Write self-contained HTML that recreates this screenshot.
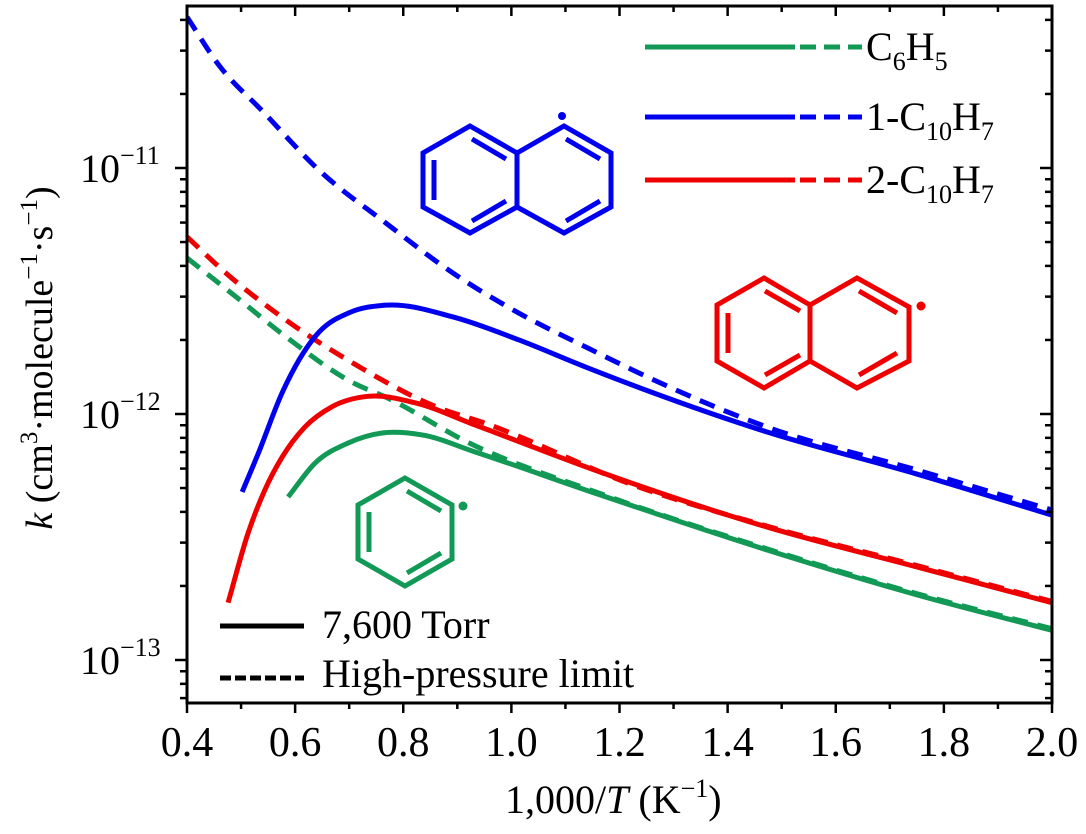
<!DOCTYPE html>
<html><head><meta charset="utf-8"><style>
body{margin:0;background:#fff}
svg{display:block;font-family:"Liberation Serif","Times New Roman",serif}
text{font-family:"Liberation Serif","Times New Roman",serif}
</style></head><body>
<svg id="c" width="1086" height="834" viewBox="0 0 1086 834" font-family="Liberation Serif, serif">
<g id="marks"></g>
<g id="axes"></g>
<g stroke="#0000ee" stroke-width="5" fill="none" stroke-linejoin="miter">
<path d="M470,126 L517,153 L517,207 L470,233 L423,207 L423,153 Z M517,153 L564,126 L611,153 L611,207 L564,233 L517,207"/>
<path d="M472,139 L506,159 M434,160 L434,200 M472,221 L506,201 M566,139 L600,159 M600,201 L566,221"/>
<circle cx="562" cy="116" r="4" fill="#0000ee" stroke="none"/>
</g>
<g stroke="#ee0000" stroke-width="5" fill="none">
<path d="M764,278 L810,305 L810,361 L764,388 L717,361 L717,305 Z M810,305 L857,278 L909,307 L909,361 L857,388 L810,361"/>
<path d="M765,291 L800,311 M728,313 L728,353 M765,375 L800,355 M859,291 L897,313 M897,353 L859,375"/>
<circle cx="921" cy="306" r="4.5" fill="#ee0000" stroke="none"/>
</g>
<g stroke="#119955" stroke-width="5" fill="none">
<path d="M405,478 L452,505 L452,559 L405,586 L358,559 L358,505 Z"/>
<path d="M407,491 L441,511 M369,512 L369,552 M407,573 L441,553"/>
<circle cx="463" cy="506" r="4.5" fill="#119955" stroke="none"/>
</g>
<g id="legend" font-size="40"></g>
</svg>
<script>
const ns="http://www.w3.org/2000/svg";
const xTicks=[0.4,0.6,0.8,1.0,1.2,1.4,1.6,1.8,2.0];
const xTickLabels=["0.4","0.6","0.8","1.0","1.2","1.4","1.6","1.8","2.0"];
const yDecades=[-13,-12,-11];
const seriesNames=["C6H5","1-C10H7","2-C10H7"];
const blueHplX=[0.4,0.46,0.54,0.644,0.768,0.892,1.014,1.138,1.262,1.473,1.75,2.0];
const blueHplK=[4.11e-11,2.6e-11,1.7e-11,9.8e-12,5.97e-12,3.74e-12,2.57e-12,1.87e-12,1.38e-12,8.85e-13,5.92e-13,4.07e-13];
const blueX=[0.502,0.532,0.576,0.644,0.7,0.768,0.892,1.014,1.138,1.262,1.473,1.75,2.0];
const blueK=[4.82e-13,6.93e-13,1.22e-12,2.15e-12,2.58e-12,2.77e-12,2.48e-12,2.0e-12,1.55e-12,1.22e-12,8.45e-13,5.7e-13,3.88e-13];
const redHplX=[0.4,0.472,0.583,0.707,0.861,0.953,1.23,1.473,1.75,2.0];
const redHplK=[5.25e-12,3.74e-12,2.41e-12,1.61e-12,1.07e-12,9.15e-13,5.1e-13,3.5e-13,2.42e-13,1.73e-13];
const redX=[0.476,0.513,0.544,0.576,0.618,0.668,0.735,0.822,0.933,1.164,1.473,1.75,2.0];
const redK=[1.71e-13,3.28e-13,4.91e-13,6.68e-13,8.85e-13,1.07e-12,1.18e-12,1.11e-12,9.02e-13,5.81e-13,3.47e-13,2.39e-13,1.71e-13];
const greenHplX=[0.4,0.491,0.583,0.707,0.768,0.922,1.164,1.473,1.75,2.0];
const greenHplK=[4.31e-12,2.99e-12,2.06e-12,1.34e-12,1.17e-12,7.62e-13,4.75e-13,2.83e-13,1.86e-13,1.34e-13];
const greenX=[0.587,0.637,0.698,0.761,0.835,0.933,1.164,1.473,1.75,2.0];
const greenK=[4.6e-13,6.32e-13,7.62e-13,8.37e-13,8.22e-13,7.01e-13,4.69e-13,2.8e-13,1.84e-13,1.32e-13];

const X0=187,X1=1052,Y0=6,Y1=703;
const xs=v=>X0+(v-0.4)/1.6*(X1-X0);
const ys=k=>168-(Math.log10(k)+11)*246;
function el(t,a,p){const e=document.createElementNS(ns,t);for(const k in a)e.setAttribute(k,a[k]);(p||document.getElementById('c')).appendChild(e);return e;}
function spline(px,py){const n=px.length,m=[];
for(let i=0;i<n;i++){if(i==0)m[i]=(py[1]-py[0])/(px[1]-px[0]);else if(i==n-1)m[i]=(py[i]-py[i-1])/(px[i]-px[i-1]);
else{const h0=px[i]-px[i-1],h1=px[i+1]-px[i],s0=(py[i]-py[i-1])/h0,s1=(py[i+1]-py[i])/h1;m[i]=(s0*h1+s1*h0)/(h0+h1);}}
let d=`M${px[0]},${py[0]}`;for(let i=0;i<n-1;i++){const h=px[i+1]-px[i];
d+=` C${px[i]+h/3},${py[i]+m[i]*h/3} ${px[i+1]-h/3},${py[i+1]-m[i+1]*h/3} ${px[i+1]},${py[i+1]}`;}return d;}
const marks=document.getElementById('marks');
function line(X,K,col,dash,name){const p=el('path',{d:spline(X.map(xs),K.map(ys)),fill:'none',stroke:col,'stroke-width':5,'stroke-dasharray':dash?'16,10':'none'},marks);

}
el('clipPath',{id:'cp'}).appendChild(el('rect',{x:X0,y:Y0,width:X1-X0,height:Y1-Y0}));
marks.setAttribute('clip-path','url(#cp)');
line(greenHplX,greenHplK,'#119955',true,'c6h5-high-pressure-line');
line(greenX,greenK,'#119955',false,'c6h5-7600torr-line');
line(redHplX,redHplK,'#ee0000',true,'2-c10h7-high-pressure-line');
line(redX,redK,'#ee0000',false,'2-c10h7-7600torr-line');
line(blueHplX,blueHplK,'#0000ee',true,'1-c10h7-high-pressure-line');
line(blueX,blueK,'#0000ee',false,'1-c10h7-7600torr-line');

const ax=document.getElementById('axes');
el('rect',{x:X0,y:Y0,width:X1-X0,height:Y1-Y0,fill:'none',stroke:'#000','stroke-width':3},ax);
for(let v=0.4;v<=2.001;v+=0.1){const x=xs(v),maj=Math.round(v*10)%2==0;
el('line',{x1:x,x2:x,y1:Y1,y2:Y1+(maj?10:6),stroke:'#000','stroke-width':2.5},ax);
el('line',{x1:x,x2:x,y1:Y0,y2:Y0+(maj?10:6),stroke:'#000','stroke-width':2.5},ax);}
xTicks.forEach((v,i)=>{const t=el('text',{x:xs(v),y:756,'font-size':42,'text-anchor':'middle'},ax);t.textContent=xTickLabels[i];

});
for(let d=-14;d<=-11;d++)for(let m=1;m<10;m++){const y=ys(m*Math.pow(10,d));if(y<Y0-0.5||y>Y1+0.5)continue;
el('line',{x1:X0,x2:X0-(m==1?12:7),y1:y,y2:y,stroke:'#000','stroke-width':2.5},ax);
el('line',{x1:X1,x2:X1-(m==1?12:7),y1:y,y2:y,stroke:'#000','stroke-width':2.5},ax);}
yDecades.forEach(d=>{const t=el('text',{x:80,y:ys(Math.pow(10,d))+14,'font-size':40},ax);t.innerHTML=`10<tspan dy="-18" font-size="26">−${-d}</tspan>`;

});
const xt=el('text',{x:505,y:813,'font-size':40,},ax);
xt.innerHTML='1,000/<tspan font-style="italic">T</tspan> (K<tspan dy="-16" font-size="26">−1</tspan><tspan dy="16">)</tspan>';
const yt=el('text',{transform:'translate(52,358) rotate(-90)','font-size':38,'text-anchor':'middle',},ax);
yt.innerHTML='<tspan font-style="italic">k</tspan> (cm<tspan dy="-15" font-size="25">3</tspan><tspan dy="15">·molecule</tspan><tspan dy="-15" font-size="25">−1</tspan><tspan dy="15">·s</tspan><tspan dy="-15" font-size="25">−1</tspan><tspan dy="15">)</tspan>';

const lg=document.getElementById('legend');
const cols=['#119955','#0000ee','#ee0000'];
const labs=['C<tspan dy="10" font-size="26">6</tspan><tspan dy="-10">H</tspan><tspan dy="10" font-size="26">5</tspan>',
'1-C<tspan dy="10" font-size="26">10</tspan><tspan dy="-10">H</tspan><tspan dy="10" font-size="26">7</tspan>',
'2-C<tspan dy="10" font-size="26">10</tspan><tspan dy="-10">H</tspan><tspan dy="10" font-size="26">7</tspan>'];
[47,117,180].forEach((y,i)=>{const g=el('g',{},lg);


el('line',{x1:645,x2:795,y1:y,y2:y,stroke:cols[i],'stroke-width':5},g);
el('line',{x1:800,x2:862,y1:y,y2:y,stroke:cols[i],'stroke-width':5,'stroke-dasharray':'16,8'},g);
el('text',{x:866,y:y+13},g).innerHTML=labs[i];});
const g1=el('g',{},lg);
el('line',{x1:220,x2:304,y1:626,y2:626,stroke:'#000','stroke-width':5},g1);
el('text',{x:322,y:638},g1).textContent='7,600 Torr';
const g2=el('g',{},lg);
el('line',{x1:220,x2:304,y1:678,y2:678,stroke:'#000','stroke-width':5,'stroke-dasharray':'11,4'},g2);
el('text',{x:322,y:687},g2).textContent='High-pressure limit';
</script>
</body></html>
